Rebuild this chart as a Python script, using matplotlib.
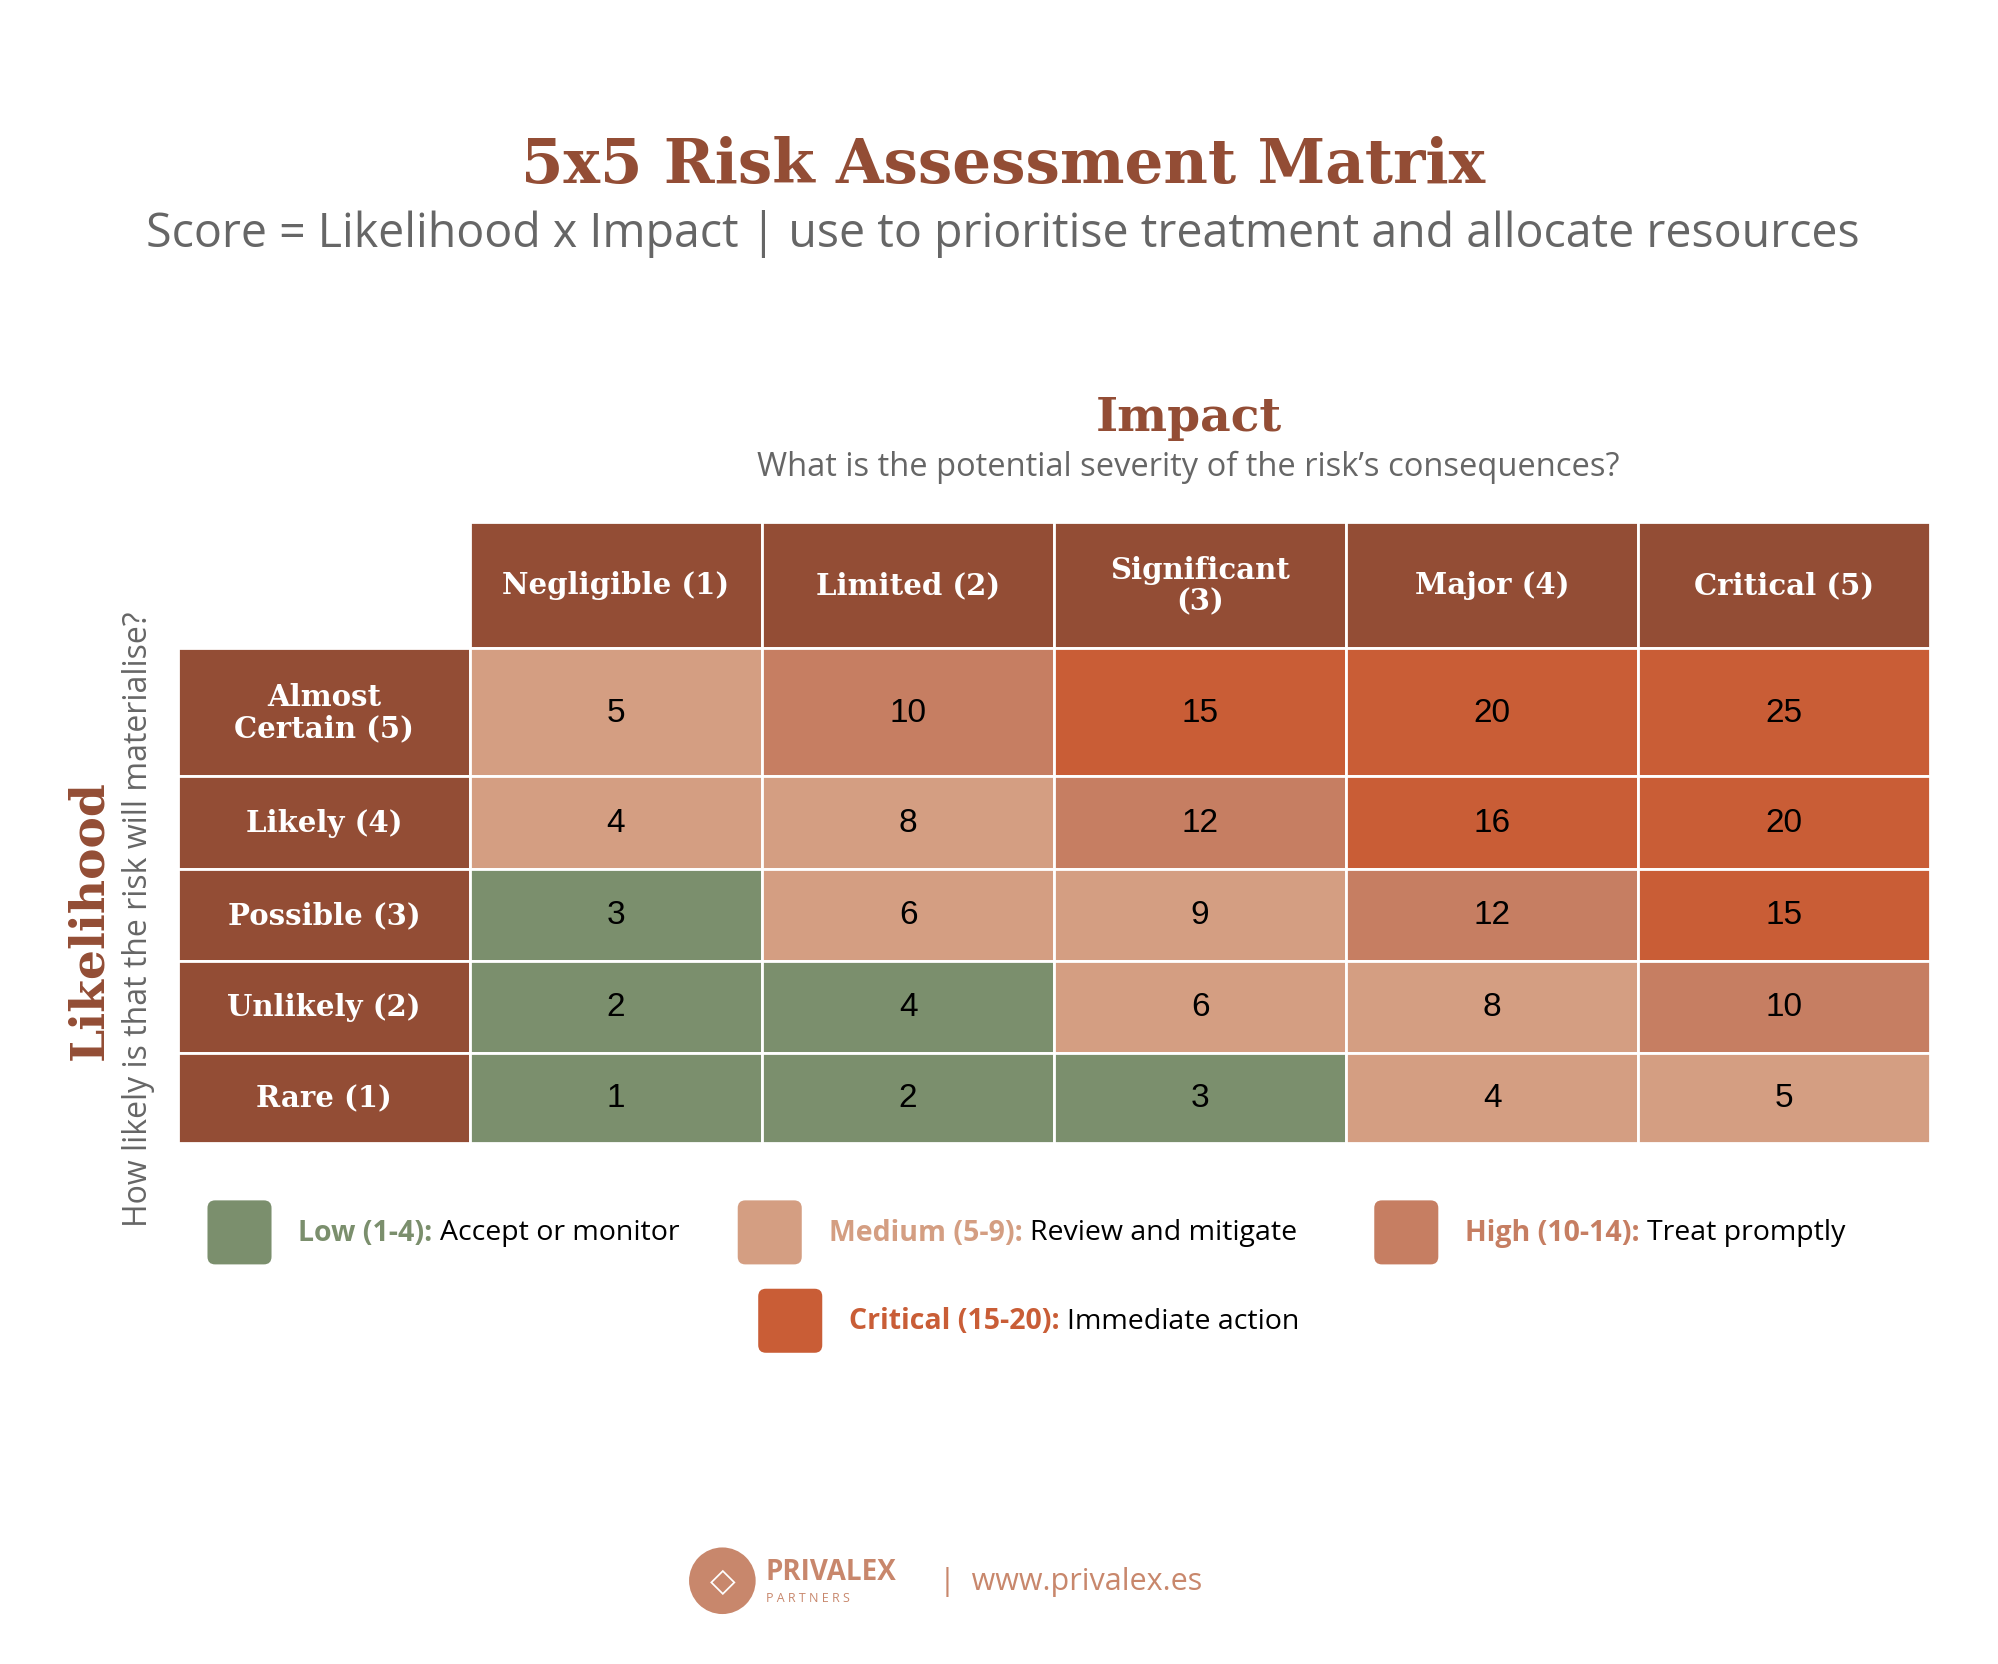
import matplotlib
matplotlib.use("Agg")
import matplotlib.pyplot as plt
from matplotlib.patches import Rectangle, FancyBboxPatch, Circle

impact = ["Negligible (1)", "Limited (2)", "Significant\n(3)", "Major (4)", "Critical (5)"]
likelihood = ["Almost\nCertain (5)", "Likely (4)", "Possible (3)", "Unlikely (2)", "Rare (1)"]
like_vals = [5, 4, 3, 2, 1]
imp_vals = [1, 2, 3, 4, 5]
# risk level shown in each cell (0 low, 1 medium, 2 high, 3 critical), as in the reference
levels = [
    [1, 2, 3, 3, 3],
    [1, 1, 2, 3, 3],
    [0, 1, 1, 2, 3],
    [0, 0, 1, 1, 2],
    [0, 0, 0, 1, 1],
]
legend_labels = ["Low (1-4):", "Medium (5-9):", "High (10-14):", "Critical (15-20):"]
legend_texts = ["Accept or monitor", "Review and mitigate", "Treat promptly", "Immediate action"]

C_LOW, C_MED, C_HIGH, C_CRIT = "#7b8f6d", "#d49e82", "#c67e62", "#c95d36"
HEAD = "#934d35"
GREY = "#666666"
legend_colors = [C_LOW, C_MED, C_HIGH, C_CRIT]

SERIF = "DejaVu Serif"
SANS = "Open Sans"

fig = plt.figure(figsize=(19.98, 16.65), dpi=100)
ax = fig.add_axes([0, 0, 1, 1])
ax.set_xlim(0, 1560)
ax.set_ylim(1300, 0)
ax.axis("off")

ax.text(783, 130, "5x5 Risk Assessment Matrix", ha="center", va="center",
        family=SERIF, weight="bold", fontsize=44, color=HEAD)
ax.text(783, 183, "Score = Likelihood x Impact | use to prioritise treatment and allocate resources",
        ha="center", va="center", family=SANS, fontsize=33.5, color=GREY)
ax.text(928, 326, "Impact", ha="center", va="center", family=SERIF, weight="bold",
        fontsize=34, color=HEAD)
ax.text(928, 365, "What is the potential severity of the risk\u2019s consequences?",
        ha="center", va="center", family=SANS, fontsize=23.5, color=GREY)
ax.text(70, 718, "Likelihood", ha="center", va="center", rotation=90, family=SERIF,
        weight="bold", fontsize=34, color=HEAD)
ax.text(108, 718, "How likely is that the risk will materialise?", ha="center", va="center",
        rotation=90, family=SANS, fontsize=23, color=GREY)

x0, lab_w, col_w = 139, 228, 228
head_top, head_h = 408, 99
row_h = [100, 72, 72, 72, 70]

for j, name in enumerate(impact):
    x = x0 + lab_w + j * col_w
    ax.add_patch(Rectangle((x, head_top), col_w, head_h, fc=HEAD, ec="white", lw=2))
    ax.text(x + col_w / 2, head_top + head_h / 2, name, ha="center", va="center",
            family=SERIF, weight="bold", fontsize=21, color="white", linespacing=1.1)

y = head_top + head_h
for i, name in enumerate(likelihood):
    h = row_h[i]
    ax.add_patch(Rectangle((x0, y), lab_w, h, fc=HEAD, ec="white", lw=2))
    ax.text(x0 + lab_w / 2, y + h / 2, name, ha="center", va="center", family=SERIF,
            weight="bold", fontsize=21, color="white", linespacing=1.1)
    for j in range(5):
        s = like_vals[i] * imp_vals[j]
        x = x0 + lab_w + j * col_w
        ax.add_patch(Rectangle((x, y), col_w, h, fc=legend_colors[levels[i][j]],
                               ec="white", lw=2))
        ax.text(x + col_w / 2, y + h / 2, str(s), ha="center", va="center",
                family="Liberation Sans", fontsize=24, color="black")
    y += h

leg_pos = [(162, 963), (576, 963), (1073, 963), (592, 1032)]
for (lx, ly), c, lab, txt in zip(leg_pos, legend_colors, legend_labels, legend_texts):
    ax.add_patch(FancyBboxPatch((lx, ly - 25), 50, 50, boxstyle="round,pad=0,rounding_size=6",
                                fc=c, ec="none"))
    t = ax.text(lx + 71, ly, lab + " ", ha="left", va="center", family=SANS,
                weight="bold", fontsize=20.5, color=c)
    fig.canvas.draw()
    bb = t.get_window_extent().transformed(ax.transData.inverted())
    ax.text(bb.x1, ly, txt, ha="left", va="center", family=SANS, weight="medium",
            fontsize=20.5, color="black")

# footer logo
ax.add_patch(Circle((564, 1235), 26, fc="#c8876c", ec="none"))
ax.text(564, 1235, "\u25c7", ha="center", va="center", fontsize=24, color="white",
        family="DejaVu Sans", weight="bold")
ax.text(598, 1228, "PRIVALEX", ha="left", va="center", family=SANS, weight="bold",
        fontsize=20, color="#c8876c")
ax.text(598, 1248, "P A R T N E R S", ha="left", va="center", family=SANS,
        fontsize=9, color="#c8876c")
ax.text(733, 1235, "|  www.privalex.es", ha="left", va="center", family=SANS,
        fontsize=22, color="#c8876c")

fig.savefig("out.png", dpi=100, facecolor="white")
